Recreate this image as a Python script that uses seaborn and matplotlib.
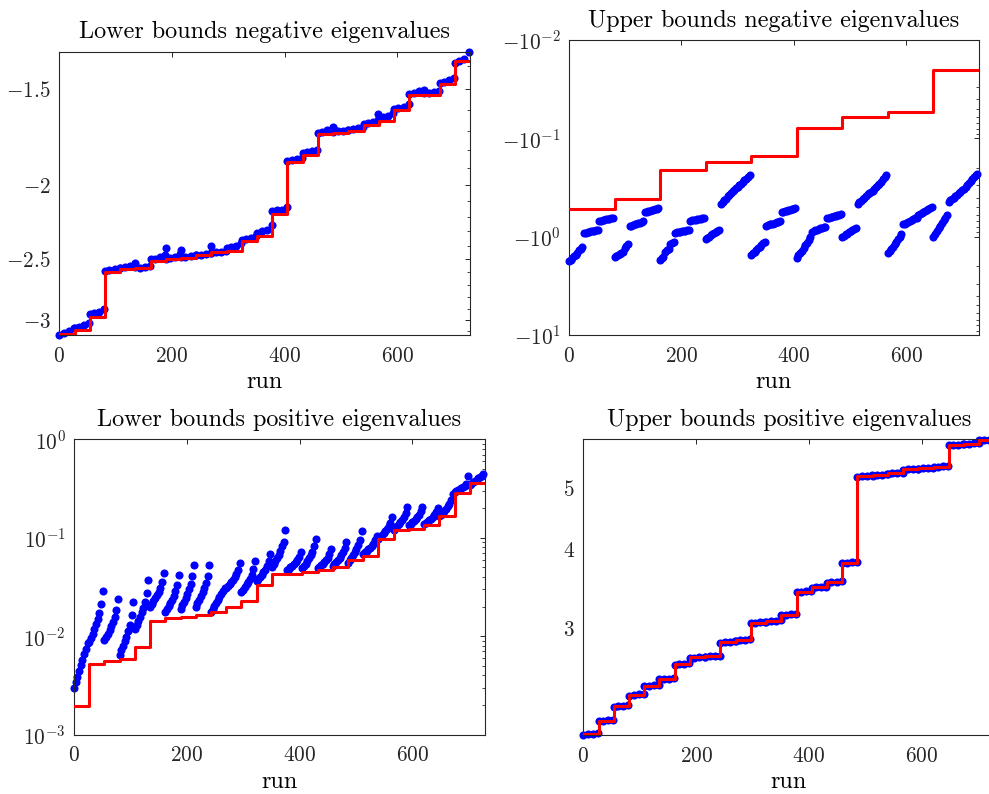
import numpy as np
import matplotlib
matplotlib.use("Agg")
import matplotlib.pyplot as plt
from matplotlib.ticker import NullFormatter
import seaborn as sns

# --- data (729 runs, blocks of 27 / 81 runs) ---
N_RUNS = 729
BLOCK = 27
WIDE_BLOCK = 81
x_ticks = [0, 200, 400, 600]

# Lower bounds negative eigenvalues: red bound per 27-run block
neg_lower_bound = [-3.13, -3.09, -2.97, -2.60, -2.575, -2.565, -2.51, -2.50, -2.49,
                   -2.47, -2.45, -2.44, -2.37, -2.33, -2.18, -1.87, -1.83, -1.72,
                   -1.71, -1.70, -1.67, -1.65, -1.60, -1.53, -1.53, -1.48, -1.38]
neg_lower_offsets = [0, 8, 17, 26]
neg_lower_eig = [
    [-3.138, -3.12, -3.10, -3.075], [-3.07, -3.06, -3.045, -3.03], [-2.95, -2.94, -2.93, -2.90],
    [-2.59, -2.585, -2.575, -2.565], [-2.565, -2.56, -2.555, -2.55], [-2.56, -2.565, -2.56, -2.555],
    [-2.50, -2.495, -2.485, -2.47], [-2.495, -2.49, -2.48, -2.465], [-2.485, -2.48, -2.478, -2.47],
    [-2.47, -2.467, -2.463, -2.455], [-2.455, -2.45, -2.445, -2.44], [-2.42, -2.41, -2.40, -2.385],
    [-2.36, -2.355, -2.345, -2.335], [-2.31, -2.30, -2.29, -2.255], [-2.165, -2.16, -2.155, -2.14],
    [-1.86, -1.857, -1.853, -1.845], [-1.82, -1.815, -1.81, -1.80], [-1.715, -1.705, -1.695, -1.685],
    [-1.705, -1.702, -1.70, -1.697], [-1.697, -1.693, -1.688, -1.68], [-1.665, -1.66, -1.655, -1.645],
    [-1.638, -1.632, -1.625, -1.614], [-1.592, -1.587, -1.582, -1.572], [-1.522, -1.518, -1.512, -1.505],
    [-1.52, -1.518, -1.515, -1.51], [-1.474, -1.468, -1.462, -1.452], [-1.388, -1.38, -1.37, -1.342],
]
neg_lower_extra_runs = [134, 189, 216, 269, 485, 566]
neg_lower_extra_eig = [-2.53, -2.42, -2.43, -2.40, -1.68, -1.62]

# Upper bounds negative eigenvalues: red bound per 81-run block
neg_upper_bound = [-0.52, -0.41, -0.21, -0.176, -0.152, -0.078, -0.060, -0.054, -0.020]
fine_offsets = [0, 3, 6, 9, 12, 15, 18, 21, 24]
neg_upper_eig = [
    [-1.78, -1.72, -1.66, -1.57, -1.52, -1.47, -1.37, -1.32, -1.27],
    [-0.92, -0.91, -0.90, -0.895, -0.885, -0.875, -0.87, -0.86, -0.85],
    [-0.69, -0.685, -0.68, -0.675, -0.668, -0.66, -0.655, -0.648, -0.64],
    [-1.60, -1.57, -1.53, -1.50, -1.47, -1.43, -1.30, -1.25, -1.20],
    [-0.78, -0.77, -0.76, -0.75, -0.74, -0.73, -0.72, -0.71, -0.70],
    [-0.56, -0.555, -0.55, -0.545, -0.54, -0.533, -0.527, -0.52, -0.513],
    [-1.72, -1.66, -1.60, -1.42, -1.38, -1.34, -1.18, -1.15, -1.12],
    [-0.91, -0.905, -0.90, -0.89, -0.885, -0.88, -0.87, -0.865, -0.86],
    [-0.685, -0.68, -0.675, -0.67, -0.665, -0.66, -0.655, -0.648, -0.64],
    [-1.06, -1.03, -1.00, -0.97, -0.945, -0.92, -0.895, -0.87, -0.85],
    [-0.46, -0.44, -0.425, -0.41, -0.39, -0.375, -0.36, -0.345, -0.335],
    [-0.322, -0.31, -0.30, -0.29, -0.28, -0.268, -0.257, -0.245, -0.235],
    [-1.53, -1.47, -1.42, -1.37, -1.31, -1.26, -1.21, -1.16, -1.12],
    [-0.77, -0.76, -0.75, -0.74, -0.735, -0.725, -0.715, -0.708, -0.70],
    [-0.56, -0.555, -0.55, -0.545, -0.538, -0.532, -0.525, -0.518, -0.51],
    [-1.63, -1.55, -1.47, -1.39, -1.30, -1.22, -1.15, -1.07, -1.00],
    [-0.89, -0.875, -0.86, -0.85, -0.835, -0.825, -0.81, -0.80, -0.79],
    [-0.652, -0.645, -0.638, -0.63, -0.622, -0.615, -0.607, -0.60, -0.593],
    [-1.00, -0.975, -0.95, -0.93, -0.905, -0.885, -0.865, -0.84, -0.82],
    [-0.46, -0.445, -0.43, -0.415, -0.40, -0.385, -0.37, -0.36, -0.35],
    [-0.345, -0.33, -0.315, -0.30, -0.29, -0.275, -0.262, -0.25, -0.237],
    [-1.48, -1.40, -1.33, -1.26, -1.19, -1.13, -1.06, -1.00, -0.95],
    [-0.75, -0.735, -0.72, -0.705, -0.69, -0.68, -0.665, -0.652, -0.64],
    [-0.603, -0.59, -0.577, -0.565, -0.552, -0.54, -0.527, -0.513, -0.50],
    [-1.00, -0.94, -0.88, -0.82, -0.77, -0.72, -0.68, -0.64, -0.60],
    [-0.442, -0.428, -0.414, -0.40, -0.387, -0.374, -0.361, -0.348, -0.336],
    [-0.324, -0.31, -0.297, -0.285, -0.272, -0.26, -0.249, -0.238, -0.228],
]

# Lower bounds positive eigenvalues
pos_lower_bound = [0.00195, 0.00522, 0.00560, 0.00582, 0.00771, 0.01419, 0.01535, 0.01571, 0.01657,
                   0.01765, 0.01968, 0.0228, 0.0330, 0.0424, 0.0424, 0.0450, 0.0468, 0.0499,
                   0.0592, 0.0655, 0.0982, 0.1213, 0.124, 0.134, 0.166, 0.282, 0.356]
pos_lower_eig = [
    [0.00300, 0.00342, 0.00389, 0.00444, 0.00505, 0.00575, 0.00655, 0.00746, 0.00850],
    [0.00879, 0.00966, 0.01064, 0.01186, 0.01318, 0.01486, 0.01714, 0.02123, 0.02897],
    [0.00910, 0.00984, 0.01062, 0.01159, 0.01265, 0.01393, 0.01567, 0.01862, 0.02400],
    [0.00650, 0.00718, 0.00793, 0.00887, 0.00991, 0.01122, 0.01303, 0.01629, 0.02249],
    [0.01180, 0.01294, 0.01416, 0.01570, 0.01742, 0.01950, 0.02239, 0.02748, 0.03700],
    [0.02000, 0.02128, 0.02270, 0.02432, 0.02612, 0.02825, 0.03105, 0.03581, 0.04395],
    [0.01750, 0.01875, 0.02014, 0.02178, 0.02355, 0.02570, 0.02858, 0.03342, 0.04198],
    [0.01900, 0.02065, 0.02239, 0.02455, 0.02692, 0.02985, 0.03373, 0.04055, 0.05297],
    [0.02000, 0.02163, 0.02339, 0.02553, 0.02786, 0.03069, 0.03451, 0.04111, 0.05297],
    [0.01762, 0.01892, 0.02028, 0.02178, 0.02333, 0.02506, 0.02692, 0.02884, 0.03097],
    [0.03097, 0.03243, 0.03396, 0.03573, 0.03767, 0.03990, 0.04266, 0.04732, 0.05495],
    [0.02799, 0.02965, 0.03148, 0.03357, 0.03581, 0.03855, 0.04207, 0.04797, 0.05794],
    [0.03597, 0.03784, 0.03981, 0.04217, 0.04467, 0.04753, 0.05140, 0.05754, 0.06792],
    [0.05000, 0.05370, 0.05754, 0.06237, 0.06761, 0.07413, 0.08222, 0.09120, 0.12080],
    [0.04699, 0.04864, 0.05035, 0.05224, 0.05433, 0.05662, 0.05970, 0.06442, 0.07194],
    [0.04875, 0.05152, 0.05445, 0.05808, 0.06180, 0.06622, 0.07211, 0.08166, 0.09795],
    [0.04875, 0.05047, 0.05236, 0.05445, 0.05675, 0.05929, 0.06252, 0.06776, 0.07603],
    [0.05200, 0.05433, 0.05689, 0.05984, 0.06295, 0.06653, 0.07112, 0.07870, 0.09099],
    [0.05598, 0.05929, 0.06295, 0.06714, 0.07161, 0.07709, 0.08414, 0.09594, 0.11590],
    [0.06902, 0.07145, 0.07379, 0.07656, 0.07962, 0.08299, 0.08730, 0.09419, 0.10500],
    [0.09795, 0.1021, 0.1062, 0.1112, 0.1164, 0.1225, 0.1303, 0.1426, 0.1629],
    [0.1211, 0.1265, 0.1318, 0.1384, 0.1452, 0.1531, 0.1633, 0.1799, 0.2070],
    [0.1340, 0.1387, 0.1436, 0.1493, 0.1552, 0.1622, 0.1710, 0.1849, 0.2070],
    [0.1380, 0.1422, 0.1462, 0.1514, 0.1563, 0.1622, 0.1694, 0.1811, 0.1991],
    [0.1648, 0.1718, 0.1795, 0.1879, 0.1972, 0.2080, 0.2218, 0.2438, 0.2799],
    [0.2931, 0.2999, 0.3069, 0.3141, 0.3214, 0.3289, 0.3373, 0.3483, 0.4266],
    [0.3428, 0.3532, 0.3648, 0.3758, 0.3882, 0.3999, 0.4130, 0.4256, 0.4395],
]

# Upper bounds positive eigenvalues
pos_upper_bound = [2.038, 2.139, 2.254, 2.35, 2.432, 2.491, 2.630, 2.695, 2.705,
                   2.850, 2.868, 3.062, 3.075, 3.149, 3.425, 3.48, 3.545, 3.808,
                   5.228, 5.245, 5.281, 5.36, 5.379, 5.41, 5.86, 5.885, 5.975]
pos_upper_offsets = [0, 8, 17, 26]
pos_upper_eig = [
    [2.030, 2.035, 2.040, 2.045], [2.135, 2.139, 2.143, 2.147], [2.250, 2.254, 2.258, 2.262],
    [2.345, 2.350, 2.355, 2.360], [2.428, 2.432, 2.436, 2.440], [2.487, 2.491, 2.495, 2.500],
    [2.625, 2.630, 2.635, 2.640], [2.690, 2.694, 2.698, 2.702], [2.700, 2.705, 2.709, 2.714],
    [2.843, 2.848, 2.853, 2.858], [2.863, 2.868, 2.873, 2.878], [3.057, 3.062, 3.067, 3.072],
    [3.070, 3.075, 3.080, 3.085], [3.144, 3.150, 3.155, 3.160], [3.420, 3.425, 3.431, 3.437],
    [3.475, 3.480, 3.486, 3.492], [3.540, 3.545, 3.551, 3.557], [3.802, 3.808, 3.814, 3.820],
    [5.220, 5.228, 5.235, 5.242], [5.238, 5.245, 5.252, 5.259], [5.274, 5.281, 5.288, 5.295],
    [5.352, 5.360, 5.367, 5.374], [5.372, 5.379, 5.386, 5.393], [5.403, 5.410, 5.417, 5.424],
    [5.852, 5.860, 5.867, 5.875], [5.878, 5.885, 5.893, 5.900], [5.965, 5.970, 5.975, 5.980],
]

BLUE = "#0000ff"
RED = "#ff0000"
INK = "#262626"


def block_points(rows, offsets, size=BLOCK):
    runs, vals = [], []
    for k, row in enumerate(rows):
        for off, v in zip(offsets, row):
            runs.append(k * size + off)
            vals.append(v)
    return runs, vals


def step_points(bounds, size):
    xs = [k * size for k in range(len(bounds))] + [N_RUNS]
    return xs, list(bounds) + [bounds[-1]]


def neg_log_fwd(y):
    y = np.asarray(y, dtype=float)
    return -np.log10(np.clip(-y, 1e-12, None))


def neg_log_inv(u):
    return -np.power(10.0, -np.asarray(u, dtype=float))


def draw_panel(ax, runs, vals, sx, sy, title):
    sns.scatterplot(x=runs, y=vals, ax=ax, color=BLUE, s=34, linewidth=0,
                    clip_on=False, zorder=2)
    sns.lineplot(x=sx, y=sy, ax=ax, color=RED, linewidth=2.2, estimator=None,
                 drawstyle="steps-post", zorder=3)
    ax.set_title(title, fontsize=17.4, pad=9.6, color="k")
    ax.set_xlabel("run", fontsize=17.4, labelpad=4, color="k")
    ax.set_ylabel("")
    ax.set_xlim(0, N_RUNS)
    ax.set_xticks(x_ticks, [f"${t}$" for t in x_ticks])
    ax.tick_params(which="both", direction="in", top=True, right=True,
                   color=INK, labelcolor=INK, labelsize=15.3)
    ax.tick_params(which="major", length=3.6, width=0.7)
    ax.tick_params(which="minor", length=2.0, width=0.6)
    ax.tick_params(axis="x", which="major", pad=8)
    ax.tick_params(axis="y", which="major", pad=6)
    for sp in ax.spines.values():
        sp.set_linewidth(0.8)
        sp.set_color(INK)


sns.set_style("white")
plt.rcParams["font.family"] = ["cmr10", "DejaVu Serif"]
plt.rcParams["mathtext.fontset"] = "cm"
plt.rcParams["axes.formatter.use_mathtext"] = True

fig = plt.figure(figsize=(9.89, 7.94), dpi=100)
W, H = 989.0, 794.0
ax1 = fig.add_axes([59.3 / W, (H - 335) / H, 410.7 / W, 283.3 / H])
ax2 = fig.add_axes([569 / W, (H - 335) / H, 410 / W, 295 / H])
ax3 = fig.add_axes([74 / W, (H - 734.7) / H, 411 / W, 295.4 / H])
ax4 = fig.add_axes([583.3 / W, (H - 735) / H, 411.2 / W, 295.7 / H])

# Panel 1
r, v = block_points(neg_lower_eig, neg_lower_offsets)
r += neg_lower_extra_runs
v += neg_lower_extra_eig
sx, sy = step_points(neg_lower_bound, BLOCK)
draw_panel(ax1, r, v, sx, sy, "Lower bounds negative eigenvalues")
ax1.set_yscale("function", functions=(neg_log_fwd, neg_log_inv))
ax1.set_ylim(-3.138, -1.342)
ax1.set_yticks([-3, -2.5, -2, -1.5], ["$-3$", "$-2.5$", "$-2$", "$-1.5$"])
minor1 = [-m / 10 for m in range(14, 32) if m not in (15, 20, 25, 30)]
ax1.set_yticks(minor1, minor=True)
ax1.yaxis.set_minor_formatter(NullFormatter())

# Panel 2
r, v = block_points(neg_upper_eig, fine_offsets)
sx, sy = step_points(neg_upper_bound, WIDE_BLOCK)
draw_panel(ax2, r, v, sx, sy, "Upper bounds negative eigenvalues")
ax2.set_yscale("function", functions=(neg_log_fwd, neg_log_inv))
ax2.set_ylim(-10, -0.01)
ax2.set_yticks([-10, -1, -0.1, -0.01],
               ["$-10^{1}$", "$-10^{0}$", "$-10^{-1}$", "$-10^{-2}$"])
minor2 = [-m * 10.0 ** e for e in (-2, -1, 0) for m in range(2, 10)]
ax2.set_yticks(minor2, minor=True)
ax2.yaxis.set_minor_formatter(NullFormatter())

# Panel 3
r, v = block_points(pos_lower_eig, fine_offsets)
sx, sy = step_points(pos_lower_bound, BLOCK)
draw_panel(ax3, r, v, sx, sy, "Lower bounds positive eigenvalues")
ax3.set_yscale("log")
ax3.set_ylim(1e-3, 1)
ax3.set_yticks([1e-3, 1e-2, 1e-1, 1],
               ["$10^{-3}$", "$10^{-2}$", "$10^{-1}$", "$10^{0}$"])
minor3 = [m * 10.0 ** e for e in (-3, -2, -1) for m in range(2, 10)]
ax3.set_yticks(minor3, minor=True)
ax3.yaxis.set_minor_formatter(NullFormatter())

# Panel 4
r, v = block_points(pos_upper_eig, pos_upper_offsets)
sx, sy = step_points(pos_upper_bound, BLOCK)
draw_panel(ax4, r, v, sx, sy, "Upper bounds positive eigenvalues")
ax4.set_yscale("log")
ax4.set_ylim(2.03, 5.98)
ax4.set_yticks([3, 4, 5], ["$3$", "$4$", "$5$"])
minor4 = [m / 10 for m in range(22, 60, 2) if m not in (30, 40, 50)]
ax4.set_yticks(minor4, minor=True)
ax4.yaxis.set_minor_formatter(NullFormatter())

fig.savefig("out.png", dpi=100)
